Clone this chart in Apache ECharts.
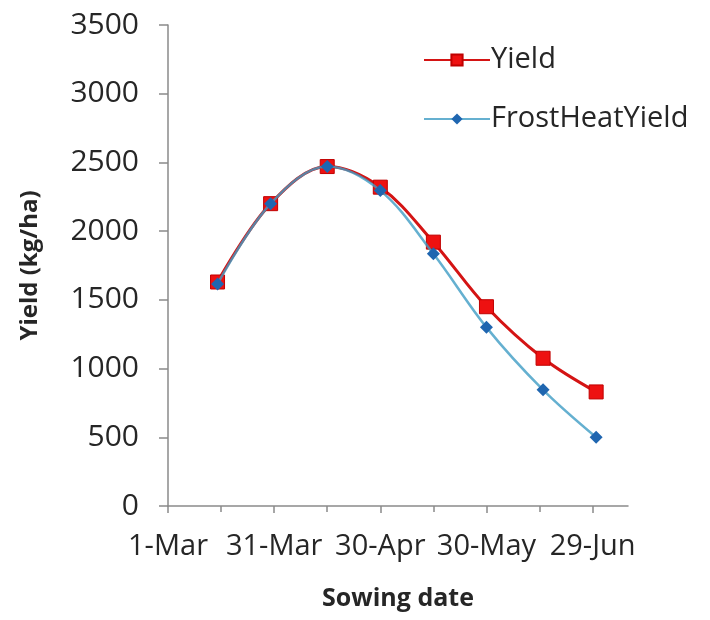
<!DOCTYPE html>
<html>
<head>
<meta charset="utf-8">
<script src="https://cdn.jsdelivr.net/npm/echarts@6/dist/echarts.min.js"></script>
<style>
html,body{margin:0;padding:0;background:#fff;}
#chart{width:710px;height:620px;}
</style>
</head>
<body>
<div id="chart"></div>
<script>
// Sowing dates as days after 1-Mar
const sowingLabels = ['15-Mar','30-Mar','15-Apr','30-Apr','15-May','30-May','15-Jun','30-Jun'];
const sowingDays = [14, 29, 45, 60, 75, 90, 106, 121];
const yieldValues = [1630, 2200, 2470, 2320, 1920, 1450, 1075, 830];
const frostHeatYieldValues = [1615, 2200, 2470, 2295, 1835, 1300, 845, 500];
const xTickDays = [0, 30, 60, 90, 120];
const xTickLabels = ['1-Mar', '31-Mar', '30-Apr', '30-May', '29-Jun'];
const xMinorTickDays = [15, 45, 75, 105];
const yTicks = [0, 500, 1000, 1500, 2000, 2500, 3000, 3500];

const FONT = '"Open Sans", "Liberation Sans", sans-serif';
const AXIS_COLOR = '#8a8a8a';
const TEXT_COLOR = '#262626';

function pairs(xs, ys) { return xs.map((x, i) => [x, ys[i]]); }

const chart = echarts.init(document.getElementById('chart'), null, {renderer: 'canvas'});
chart.setOption({
  animation: false,
  backgroundColor: '#ffffff',
  grid: {left: 168, right: 82, top: 25, bottom: 114, containLabel: false},
  legend: {
    orient: 'vertical',
    left: 418,
    top: 39,
    itemWidth: 66,
    itemHeight: 14,
    itemGap: 27,
    textStyle: {fontFamily: FONT, fontSize: 29, color: TEXT_COLOR, lineHeight: 32, padding: [0,0,0,-4]},
    data: ['Yield', 'FrostHeatYield']
  },
  xAxis: [{
    type: 'value',
    min: 0, max: 130,
    interval: 30,
    name: 'Sowing date',
    nameLocation: 'middle',
    nameGap: 80,
    nameTextStyle: {fontFamily: FONT, fontSize: 25, fontWeight: 'bold', color: TEXT_COLOR},
    axisLine: {show: true, lineStyle: {color: AXIS_COLOR, width: 1.5}},
    axisTick: {show: true, inside: false, length: 7, lineStyle: {color: AXIS_COLOR, width: 1.5}, customValues: xTickDays},
    axisLabel: {
      fontFamily: FONT, fontSize: 29, color: TEXT_COLOR, margin: 26,
      customValues: xTickDays,
      formatter: v => { const i = xTickDays.indexOf(v); return i >= 0 ? xTickLabels[i] : ''; }
    },
    splitLine: {show: false}
  }, {
    type: 'value',
    min: 0, max: 130,
    position: 'bottom',
    axisLine: {show: false, onZero: true},
    axisTick: {show: true, inside: false, length: 6, lineStyle: {color: AXIS_COLOR, width: 1.5}, customValues: xTickDays.concat(xMinorTickDays)},
    axisLabel: {show: false},
    splitLine: {show: false}
  }],
  yAxis: {
    type: 'value',
    min: 0, max: 3500,
    interval: 500,
    name: 'Yield (kg/ha)',
    nameLocation: 'middle',
    nameGap: 126,
    nameTextStyle: {fontFamily: FONT, fontSize: 24, fontWeight: 'bold', color: TEXT_COLOR},
    axisLine: {show: true, lineStyle: {color: AXIS_COLOR, width: 1.5}},
    axisTick: {show: true, inside: false, length: 9, lineStyle: {color: AXIS_COLOR, width: 1.5}},
    axisLabel: {fontFamily: FONT, fontSize: 30, color: TEXT_COLOR, margin: 29, formatter: v => String(v)},
    splitLine: {show: false}
  },
  series: [{
    name: 'Yield',
    type: 'line',
    smooth: 0.35,
    data: pairs(sowingDays, yieldValues),
    symbol: 'rect',
    symbolSize: 14,
    lineStyle: {color: '#d41414', width: 3},
    itemStyle: {color: '#ee1111', borderColor: '#c00000', borderWidth: 1},
    z: 2
  }, {
    name: 'FrostHeatYield',
    type: 'line',
    smooth: 0.35,
    data: pairs(sowingDays, frostHeatYieldValues),
    symbol: 'diamond',
    symbolSize: 13,
    lineStyle: {color: '#3f9cc4', width: 2.5, opacity: 0.8},
    itemStyle: {color: '#1f66b0'},
    z: 3
  }]
});
</script>
</body>
</html>
